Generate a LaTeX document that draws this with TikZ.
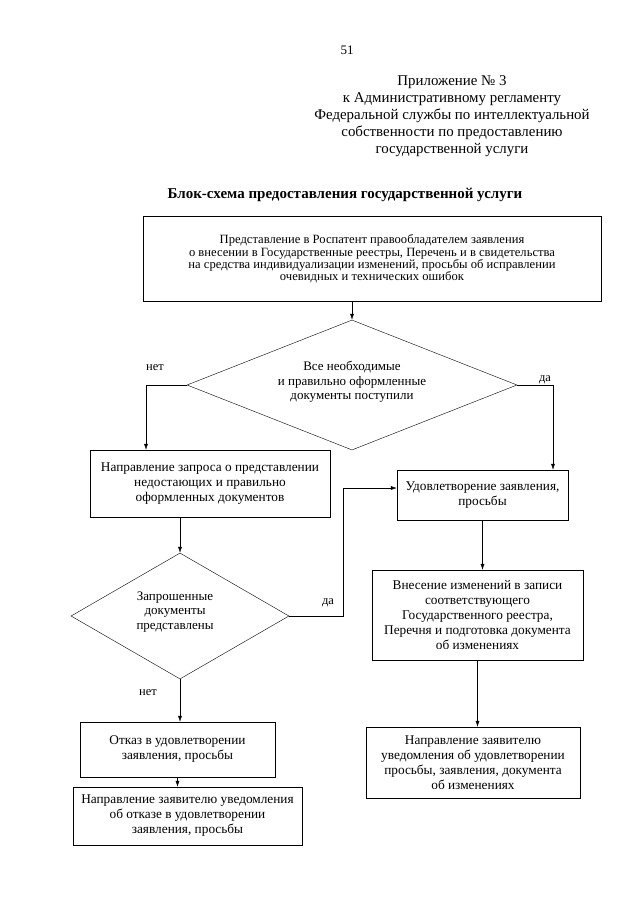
\documentclass[tikz,border=0pt]{standalone}
\usepackage{fontspec}
\setmainfont{Liberation Serif}
\usetikzlibrary{arrows.meta,shapes.geometric}

\begin{document}
\begin{tikzpicture}[x=1pt,y=-1pt,
  box/.style={draw, align=center, inner sep=2pt, font=\fontsize{13.3}{15}\selectfont},
  dec/.style={draw, diamond, inner sep=0pt},
  dectext/.style={align=center, font=\fontsize{13}{14.5}\selectfont},
  lbl/.style={font=\fontsize{12.5}{14}\selectfont},
  arr/.style={-{Latex[length=6pt,width=4pt]}}]
\useasboundingbox (0,0) rectangle (640,905);
\node[font=\fontsize{13}{15}\selectfont] (num) at (347,50) {51};
\node[align=center, font=\fontsize{14.9}{16.9}\selectfont] (app) at (452,116) {Приложение № 3\\ к Административному регламенту\\
  Федеральной службы по интеллектуальной\\ собственности по предоставлению\\ государственной услуги};
\node[font=\fontsize{15}{17}\selectfont\bfseries] (title) at (345,195) {Блок-схема предоставления государственной услуги};

\node[box, minimum width=458, minimum height=85, font=\fontsize{12.6}{12.3}\selectfont] (b1) at (372,259)
  {Представление в Роспатент правообладателем заявления\\ о внесении в Государственные реестры, Перечень и в свидетельства\\
   на средства индивидуализации изменений, просьбы об исправлении\\ очевидных и технических ошибок};
\node[dec, minimum width=330, minimum height=130] (d1) at (352,385) {};
\node[dectext] (d1t) at (352,382) {Все необходимые\\ и правильно оформленные\\ документы поступили};
\node[box, minimum width=240, minimum height=67] (b2) at (210,483.5)
  {Направление запроса о представлении\\ недостающих и правильно\\ оформленных документов};
\node[box, minimum width=171, minimum height=50] (b3) at (482.5,495)
  {Удовлетворение заявления,\\ просьбы};
\node[dec, minimum width=218, minimum height=126] (d2) at (180,616) {};
\node[dectext] (d2t) at (175,612) {Запрошенные\\ документы\\ представлены};
\node[box, minimum width=211, minimum height=90] (b4) at (477.5,615)
  {Внесение изменений в записи\\ соответствующего\\ Государственного реестра,\\ Перечня и подготовка документа\\ об изменениях};
\node[box, minimum width=195, minimum height=55] (b6) at (177.5,749.5)
  {Отказ в удовлетворении\\ заявления, просьбы};
\node[box, minimum width=229, minimum height=58] (b7) at (187.5,816)
  {Направление заявителю уведомления\\ об отказе в удовлетворении\\ заявления, просьбы};
\node[box, minimum width=214, minimum height=71] (b5) at (473,762.5)
  {Направление заявителю\\ уведомления об удовлетворении\\ просьбы, заявления, документа\\ об изменениях};

\coordinate (nl) at (146,385);
\coordinate (yr) at (553,385);
\coordinate (dj) at (343,488);

\draw[arr] (b1.south -| d1.north) -- (d1.north);
\draw[arr] (d1.west) -- (nl) -- (nl |- b2.north);
\draw[arr] (d1.east) -- (yr) -- (yr |- b3.north);
\draw[arr] (b2.south -| d2.north) -- (d2.north);
\draw[arr] (d2.east) -| (dj) -- (dj -| b3.west);
\draw[arr] (b3.south) -- (b3.south |- b4.north);
\draw[arr] (b4.south) -- (b4.south |- b5.north);
\draw[arr] (d2.south) -- (d2.south |- b6.north);
\draw[arr] (b6.south) -- (b6.south |- b7.north);

\node[lbl] (no1) at (155,368) {нет};
\node[lbl] (yes1) at (545,380) {да};
\node[lbl] (yes2) at (328,603) {да};
\node[lbl] (no2) at (148,693) {нет};
\end{tikzpicture}
\end{document}
